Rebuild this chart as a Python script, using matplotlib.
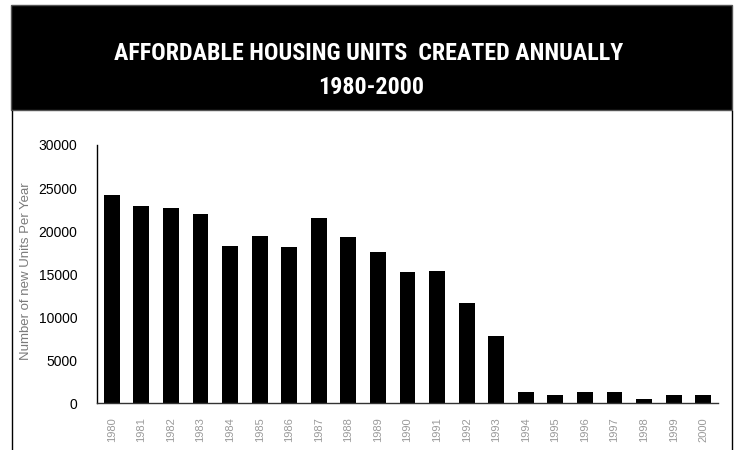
import matplotlib
matplotlib.use("Agg")
import matplotlib.pyplot as plt
from matplotlib.patches import Rectangle
from matplotlib.lines import Line2D
import numpy as np

years = [str(y) for y in range(1980, 2001)]
units = [24200, 22950, 22700, 22000, 18300, 19450, 18200, 21550, 19300, 17600,
         15300, 15400, 11650, 7800, 1300, 1000, 1300, 1300, 500, 1000, 1000]
y_ticks = [0, 5000, 10000, 15000, 20000, 25000, 30000]
title_line1 = "AFFORDABLE HOUSING UNITS  CREATED ANNUALLY"
title_line2 = "1980-2000"
y_label = "Number of new Units Per Year"

W, H = 738, 450
fig = plt.figure(figsize=(W / 100, H / 100), dpi=100)
fig.patch.set_facecolor("white")

def fx(px):
    return px / W

def fy(py):
    return 1 - py / H

# black title band
fig.patches.append(Rectangle((fx(11), fy(110)), fx(732) - fx(11), fy(5) - fy(110),
                             transform=fig.transFigure, facecolor="black",
                             edgecolor="#555555", linewidth=1, zorder=0))
# frame lines below band
fig.lines.append(Line2D([fx(12), fx(12)], [fy(111), 0], transform=fig.transFigure,
                        color="black", linewidth=1))
fig.lines.append(Line2D([fx(732), fx(732)], [fy(111), 0], transform=fig.transFigure,
                        color="black", linewidth=1))

title_font = ["Roboto Condensed", "PT Sans Narrow", "Liberation Sans", "DejaVu Sans"]
fig.text(fx(369), fy(54), title_line1, color="white", fontsize=17.3, fontweight="bold",
         family=title_font, ha="center", va="center")
fig.text(fx(371), fy(88), title_line2, color="white", fontsize=17.3, fontweight="bold",
         family=title_font, ha="center", va="center")

ax = fig.add_axes([fx(97), fy(403.3), fx(718) - fx(97), fy(145) - fy(403.3)])
x = np.arange(len(years))
ax.bar(x, units, width=0.54, color="black")
ax.set_xlim(-0.5, len(years) - 0.5)
ax.set_ylim(0, 30000)
ax.set_yticks(y_ticks)
ax.set_yticklabels([str(v) for v in y_ticks], family="Liberation Sans", fontsize=10)
ax.set_xticks(x)
ax.set_xticklabels(years, rotation=90, fontsize=8, color="#9a9a9a", family="Liberation Sans")
ax.tick_params(axis="y", length=0, pad=14)
ax.tick_params(axis="x", length=0, pad=10)
for s in ["top", "right"]:
    ax.spines[s].set_visible(False)
ax.spines["left"].set_linewidth(1)
ax.spines["bottom"].set_color("#333333")
ax.spines["bottom"].set_linewidth(1)
ax.set_facecolor("white")

fig.text(fx(26), fy(271), y_label, rotation=90, color="#7a7a7a", fontsize=9.5,
         family="Liberation Sans", ha="center", va="center")

fig.savefig("out.png", dpi=100)
